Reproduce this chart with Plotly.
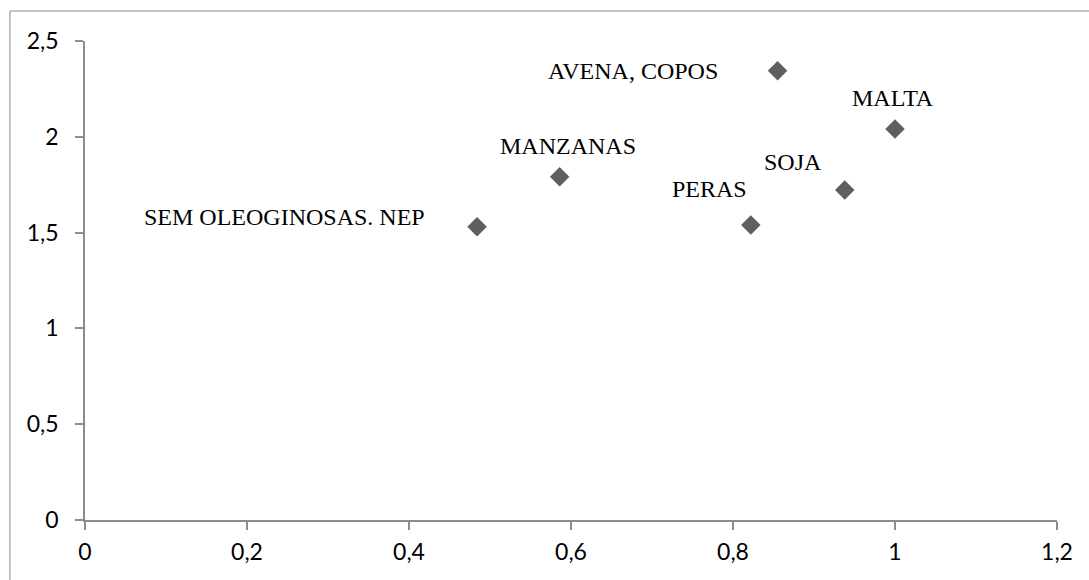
import plotly.graph_objects as go

# Products and their coordinates
products = ["SEM OLEOGINOSAS. NEP", "MANZANAS", "PERAS", "AVENA, COPOS", "SOJA", "MALTA"]
x_vals = [0.484, 0.586, 0.822, 0.855, 0.938, 1.0]
y_vals = [1.531, 1.792, 1.540, 2.345, 1.722, 2.041]

# Label offsets from each marker (pixels, y up)
label_dx = [-193, 8, -41, -145, -52, -2]
label_dy = [10, 31, 36, 0, 28, 31]

x_ticks = [0, 0.2, 0.4, 0.6, 0.8, 1.0, 1.2]
x_tick_text = ["0", "0,2", "0,4", "0,6", "0,8", "1", "1,2"]
y_ticks = [0, 0.5, 1.0, 1.5, 2.0, 2.5]
y_tick_text = ["0", "0,5", "1", "1,5", "2", "2,5"]

AXIS_COLOR = "#8c8c8c"
MARKER_COLOR = "#5f5f5f"

fig = go.Figure()
fig.add_trace(go.Scatter(
    x=x_vals, y=y_vals, mode="markers",
    marker=dict(symbol="diamond", size=15, color=MARKER_COLOR),
    hovertext=products, hoverinfo="text+x+y",
    showlegend=False,
))

for name, xv, yv, dx, dy in zip(products, x_vals, y_vals, label_dx, label_dy):
    fig.add_annotation(
        x=xv, y=yv, text=name, showarrow=False,
        xanchor="center", yanchor="middle",
        xshift=dx, yshift=dy,
        font=dict(family="Liberation Serif", size=24, color="#000000"),
    )

# Chart-area frame
fig.add_shape(
    type="rect", xref="paper", yref="paper",
    x0=-0.0772, x1=1.1, y0=-0.2, y1=1.0626,
    line=dict(color="#8a8a8a", width=1), fillcolor="rgba(0,0,0,0)",
    layer="below",
)

axis_common = dict(
    showgrid=False, zeroline=False, showline=True,
    linecolor=AXIS_COLOR, linewidth=1.5,
    ticks="outside", ticklen=8, tickwidth=1.5, tickcolor=AXIS_COLOR,
    tickfont=dict(family="Lato", size=23, color="#000000"),
)

fig.update_xaxes(range=[0, 1.2], tickvals=x_ticks, ticktext=x_tick_text,
                 ticklabelstandoff=3, **axis_common)
fig.update_yaxes(range=[0, 2.5], tickvals=y_ticks, ticktext=y_tick_text,
                 ticklabelstandoff=12, **axis_common)

fig.update_layout(
    width=1089, height=580,
    margin=dict(l=85, r=32, t=41, b=60),
    paper_bgcolor="white", plot_bgcolor="white",
)

fig.write_html("out.html")
